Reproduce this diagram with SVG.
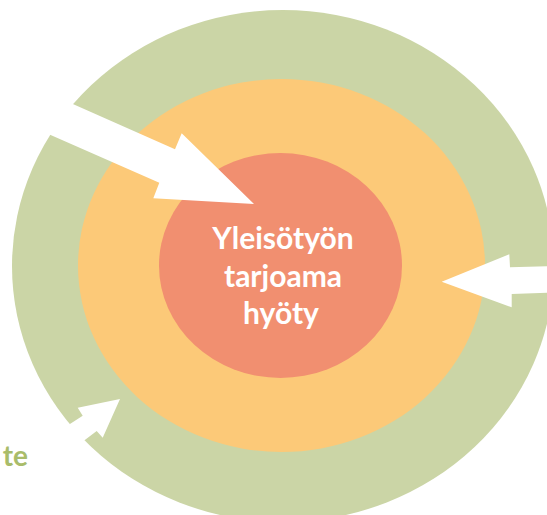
<svg xmlns="http://www.w3.org/2000/svg" width="547" height="515" viewBox="0 0 547 515">
  <style>
    .outer { fill: #CBD5A6; }
    .middle { fill: #FCC978; }
    .core { fill: #F18F70; }
    .arrow { fill: #FFFFFF; stroke: none; }
    .core-text { font-family: Lato, "Open Sans", "Liberation Sans", sans-serif; font-weight: 700; font-size: 30px; fill: #FFFFFF; text-anchor: middle; }
    .side-text { font-family: Lato, "Open Sans", "Liberation Sans", sans-serif; font-weight: 700; font-size: 28px; fill: #A9BC6A; text-anchor: end; }
  </style>
  <rect width="547" height="515" fill="#FFFFFF"/>
  <g id="outer-ring">
    <ellipse class="outer" cx="283" cy="266" rx="271" ry="256"/>
  </g>
  <g id="middle-ring">
    <ellipse class="middle" cx="281.5" cy="265.5" rx="203.5" ry="186.5"/>
  </g>
  <g id="core">
    <ellipse class="core" cx="280.5" cy="265.5" rx="121.5" ry="112.5"/>
  </g>
  <g id="connectors">
    <polygon class="arrow" points="-10,67.4 175,149.3 181.7,133.3 254,204 153.3,198.3 159.3,182.7 -10,108.4"/>
    <polygon class="arrow" points="441.7,281.7 509.3,254.3 510,267.3 550,266.3 550,292.7 511.7,294 511.7,307.3"/>
    <polygon class="arrow" points="120,399 77.7,407.7 82.7,415.7 49,437.5 65,455 96.7,431 102.7,437.7"/>
  </g>
  <g id="core-label">
    <text class="core-text" x="283" y="249">Yleisötyön</text>
    <text class="core-text" x="283" y="286.5">tarjoama</text>
    <text class="core-text" x="281" y="323.5">hyöty</text>
  </g>
  <g id="side-label">
    <text class="side-text" x="28" y="466">te</text>
  </g>
</svg>
